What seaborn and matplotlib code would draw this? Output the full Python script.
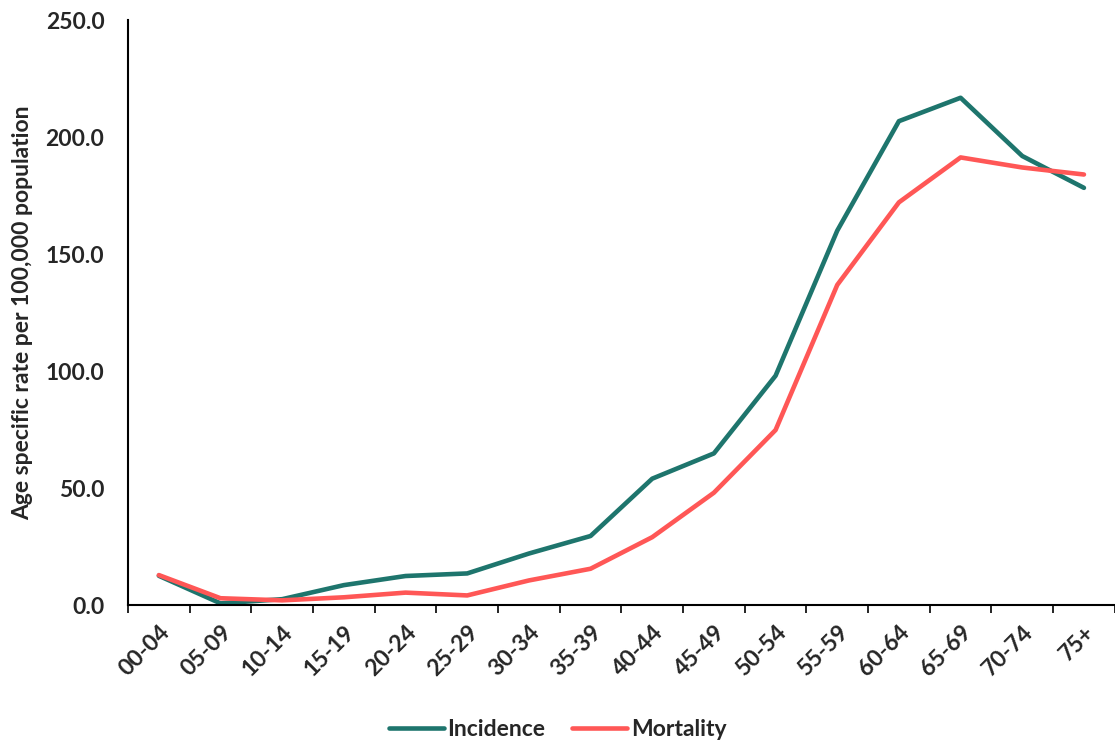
import pandas as pd
import matplotlib
matplotlib.use("Agg")
import matplotlib.pyplot as plt
import seaborn as sns

# age groups and rates (per 100,000)
age_groups = ['00-04', '05-09', '10-14', '15-19', '20-24', '25-29', '30-34', '35-39',
              '40-44', '45-49', '50-54', '55-59', '60-64', '65-69', '70-74', '75+']
incidence = [12.5, 0.7, 2.5, 8.5, 12.4, 13.5, 22.0, 29.5,
             54.0, 64.8, 98.0, 160.0, 206.8, 216.8, 191.9, 178.3]
mortality = [12.8, 2.9, 2.0, 3.3, 5.3, 4.1, 10.5, 15.5,
             29.0, 48.0, 74.8, 136.8, 172.1, 191.3, 187.0, 184.0]

df = pd.DataFrame({
    'age': age_groups * 2,
    'rate': incidence + mortality,
    'measure': ['Incidence'] * len(age_groups) + ['Mortality'] * len(age_groups),
})

sns.set_style("white")
plt.rcParams['font.family'] = ['Lato', 'DejaVu Sans']
plt.rcParams['font.weight'] = 'bold'
FS = 16.5

fig = plt.figure(figsize=(11.15, 7.44), dpi=100)
ax = fig.add_axes([0.1148, 0.1868, 0.885, 0.7862])

sns.lineplot(data=df, x='age', y='rate', hue='measure', sort=False,
             palette={'Incidence': '#1E756D', 'Mortality': '#FF5756'},
             linewidth=3.3, ax=ax)

ax.set_xlim(-0.5, len(age_groups) - 0.5)
ax.set_ylim(0, 250)
ax.set_yticks([0, 50, 100, 150, 200, 250])
ax.set_yticklabels([f"{v:.1f}" for v in [0, 50, 100, 150, 200, 250]], fontsize=FS, fontweight='bold')
ax.set_xticks(range(len(age_groups)))
ax.set_xticklabels(age_groups, rotation=45, ha='right', rotation_mode='anchor',
                   fontsize=FS, fontweight='bold')
ax.set_xticks([i + 0.5 for i in range(-1, len(age_groups))], minor=True)
ax.tick_params(axis='x', which='major', length=0, pad=12)
ax.tick_params(axis='x', which='minor', length=6, width=1.2, color='black', direction='out', bottom=True)
ax.tick_params(axis='y', length=0, pad=17)

ax.set_xlabel('')
ax.set_ylabel('Age specific rate per 100,000 population', fontsize=FS, fontweight='bold', labelpad=9)

for side in ['top', 'right']:
    ax.spines[side].set_visible(False)
for side in ['left', 'bottom']:
    ax.spines[side].set_color('black')
    ax.spines[side].set_linewidth(1.5)

ax.legend(loc='lower center', bbox_to_anchor=(0.5, -0.022), bbox_transform=fig.transFigure,
          ncol=2, frameon=False, handlelength=2.4, handletextpad=0.15, columnspacing=1.2,
          prop={'weight': 'bold', 'size': FS})

fig.savefig('out.png', dpi=100)
